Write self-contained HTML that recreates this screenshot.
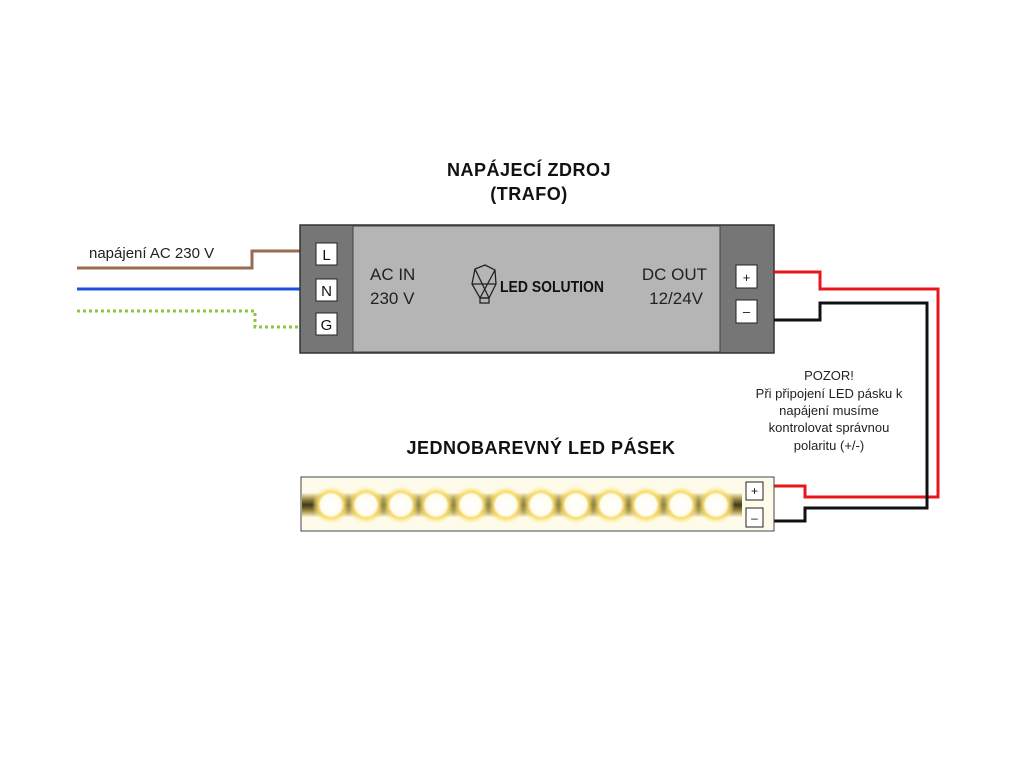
<!DOCTYPE html>
<html><head><meta charset="utf-8"><style>
body{margin:0;width:1024px;height:768px;background:#fff;overflow:hidden;font-family:"Liberation Sans",sans-serif}
</style></head><body>
<svg width="1024" height="768" viewBox="0 0 1024 768" xmlns="http://www.w3.org/2000/svg">
<defs>
<radialGradient id="g" cx="50%" cy="50%" r="50%">
<stop offset="0" stop-color="#fff"/><stop offset="0.55" stop-color="#fffdf0"/><stop offset="0.7" stop-color="#f7d860" stop-opacity="0.9"/><stop offset="1" stop-color="#fff0a0" stop-opacity="0"/>
</radialGradient>
<linearGradient id="band" x1="0" y1="0" x2="0" y2="1">
<stop offset="0" stop-color="#fff6d0"/><stop offset="0.3" stop-color="#8a7a30"/><stop offset="0.5" stop-color="#3e3820"/><stop offset="0.7" stop-color="#8a7a30"/><stop offset="1" stop-color="#fff6d0"/>
</linearGradient>
</defs>
<text x="529" y="176" text-anchor="middle" font-size="18" font-weight="bold" fill="#111" letter-spacing="0.5">NAPÁJECÍ ZDROJ</text>
<text x="529" y="200" text-anchor="middle" font-size="18" font-weight="bold" fill="#111" letter-spacing="0.5">(TRAFO)</text>
<polyline points="77,268 252,268 252,251 300,251" fill="none" stroke="#9b6a50" stroke-width="3"/>
<line x1="77" y1="289" x2="300" y2="289" stroke="#1a4fe0" stroke-width="3"/>
<polyline points="77,311 255,311 255,327 300,327" fill="none" stroke="#8cc63f" stroke-width="3" stroke-dasharray="3,3"/>
<text x="89" y="258" font-size="15" fill="#222">napájení AC 230 V</text>
<rect x="300" y="225" width="474" height="128" fill="#767676" stroke="#333" stroke-width="1.5"/>
<rect x="353" y="226" width="367" height="126" fill="#b5b5b5" stroke="#444" stroke-width="1"/>
<g font-size="15" text-anchor="middle" fill="#111">
<rect x="316" y="243" width="21" height="22" fill="#fff" stroke="#222"/><text x="326.5" y="260">L</text>
<rect x="316" y="279" width="21" height="22" fill="#fff" stroke="#222"/><text x="326.5" y="296">N</text>
<rect x="316" y="313" width="21" height="22" fill="#fff" stroke="#222"/><text x="326.5" y="330">G</text>
<rect x="736" y="265" width="21" height="23" fill="#fff" stroke="#222"/><text x="746.5" y="282" font-size="13">+</text>
<rect x="736" y="300" width="21" height="23" fill="#fff" stroke="#222"/><text x="746.5" y="316" font-size="13">–</text>
</g>
<g font-size="17" fill="#222">
<text x="370" y="280">AC  IN</text><text x="370" y="304">230 V</text>
<text x="707" y="280" text-anchor="end">DC OUT</text><text x="703" y="304" text-anchor="end">12/24V</text>
</g>
<g fill="none" stroke="#222" stroke-width="1.3">
<path d="M475,269 L485,265 L495,270 L496,284 L489,298 L480,298 L472,284 Z M475,269 L489,298 M495,270 L480,298 M472,284 L496,284"/>
<rect x="480" y="298" width="9" height="5"/>
</g>
<text x="500" y="292" font-size="16" font-weight="bold" fill="#111" textLength="104" lengthAdjust="spacingAndGlyphs">LED SOLUTION</text>
<polyline points="774,272 820,272 820,289 938,289 938,497 805,497 805,486 774,486" fill="none" stroke="#e8151b" stroke-width="3"/>
<polyline points="774,320 820,320 820,303 927,303 927,508 805,508 805,521 774,521" fill="none" stroke="#111" stroke-width="3"/>
<g font-size="13" text-anchor="middle" fill="#222">
<text x="829" y="380">POZOR!</text>
<text x="829" y="398">Při připojení LED pásku k</text>
<text x="829" y="415">napájení musíme</text>
<text x="829" y="432">kontrolovat správnou</text>
<text x="829" y="450">polaritu (+/-)</text>
</g>
<text x="541" y="454" text-anchor="middle" font-size="18" font-weight="bold" fill="#111" letter-spacing="0.5">JEDNOBAREVNÝ LED PÁSEK</text>
<rect x="301" y="477" width="473" height="54" fill="#fffbea" stroke="#444" stroke-width="1"/>
<rect x="302" y="493" width="440" height="24" fill="url(#band)"/>
<g>
<circle cx="331" cy="505" r="19" fill="url(#g)"/><circle cx="366" cy="505" r="19" fill="url(#g)"/><circle cx="401" cy="505" r="19" fill="url(#g)"/><circle cx="436" cy="505" r="19" fill="url(#g)"/><circle cx="471" cy="505" r="19" fill="url(#g)"/><circle cx="506" cy="505" r="19" fill="url(#g)"/><circle cx="541" cy="505" r="19" fill="url(#g)"/><circle cx="576" cy="505" r="19" fill="url(#g)"/><circle cx="611" cy="505" r="19" fill="url(#g)"/><circle cx="646" cy="505" r="19" fill="url(#g)"/><circle cx="681" cy="505" r="19" fill="url(#g)"/><circle cx="716" cy="505" r="19" fill="url(#g)"/>
</g>
<g font-size="12" text-anchor="middle" fill="#111">
<rect x="746" y="482" width="17" height="18" fill="#fff" stroke="#222"/><text x="754.5" y="495">+</text>
<rect x="746" y="508" width="17" height="19" fill="#fff" stroke="#222"/><text x="754.5" y="522">–</text>
</g>
</svg>
</body></html>
